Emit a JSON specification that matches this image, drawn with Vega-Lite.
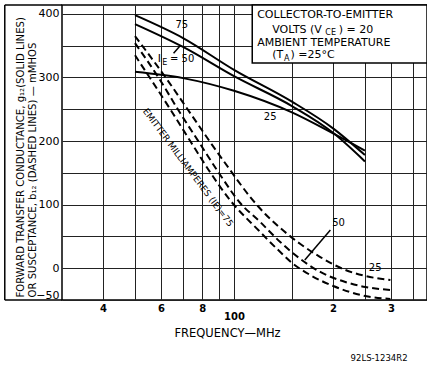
{
  "$schema": "https://vega.github.io/schema/vega-lite/v6.json",
  "width": 365,
  "height": 295,
  "autosize": {"type": "none"},
  "padding": {"left": 62, "top": 5, "right": 0, "bottom": 66},
  "background": "white",
  "config": {
    "view": {"stroke": "black", "strokeWidth": 1.5},
    "font": "DejaVu Sans"
  },
  "datasets": {
    "box": [{"f": 113.6, "f2": 386, "v": 322.8, "v2": 414}],
    "solid": [
      {"ie": "75", "f": 50, "v": 398}, {"ie": "75", "f": 70, "v": 362}, {"ie": "75", "f": 100, "v": 312}, {"ie": "75", "f": 150, "v": 262}, {"ie": "75", "f": 200, "v": 220}, {"ie": "75", "f": 250, "v": 178},
      {"ie": "50", "f": 50, "v": 384}, {"ie": "50", "f": 70, "v": 348}, {"ie": "50", "f": 100, "v": 302}, {"ie": "50", "f": 150, "v": 255}, {"ie": "50", "f": 200, "v": 213}, {"ie": "50", "f": 250, "v": 168},
      {"ie": "25", "f": 50, "v": 309}, {"ie": "25", "f": 70, "v": 299}, {"ie": "25", "f": 100, "v": 279}, {"ie": "25", "f": 150, "v": 245}, {"ie": "25", "f": 200, "v": 212}, {"ie": "25", "f": 250, "v": 185}
    ],
    "dashed": [
      {"ie": "75", "f": 50, "v": 335}, {"ie": "75", "f": 64, "v": 250}, {"ie": "75", "f": 73.6, "v": 200}, {"ie": "75", "f": 84.6, "v": 151}, {"ie": "75", "f": 97.3, "v": 107}, {"ie": "75", "f": 118.5, "v": 60}, {"ie": "75", "f": 138.2, "v": 25.5}, {"ie": "75", "f": 150.4, "v": 8}, {"ie": "75", "f": 170.5, "v": -10.7}, {"ie": "75", "f": 200.3, "v": -28}, {"ie": "75", "f": 250.7, "v": -43.7}, {"ie": "75", "f": 298.7, "v": -48.4},
      {"ie": "50", "f": 50, "v": 354}, {"ie": "50", "f": 58.8, "v": 300.8}, {"ie": "50", "f": 68.6, "v": 244}, {"ie": "50", "f": 78.9, "v": 195.4}, {"ie": "50", "f": 90.8, "v": 146.6}, {"ie": "50", "f": 104.4, "v": 102.6}, {"ie": "50", "f": 120.1, "v": 72.7}, {"ie": "50", "f": 138.2, "v": 41.2}, {"ie": "50", "f": 159.1, "v": 14.5}, {"ie": "50", "f": 182.9, "v": -5.9}, {"ie": "50", "f": 218, "v": -21.7}, {"ie": "50", "f": 250.7, "v": -29.5}, {"ie": "50", "f": 298.7, "v": -34.3},
      {"ie": "25", "f": 50, "v": 365}, {"ie": "25", "f": 61.8, "v": 300.8}, {"ie": "25", "f": 73.6, "v": 244}, {"ie": "25", "f": 84.6, "v": 198.5}, {"ie": "25", "f": 97.3, "v": 154.5}, {"ie": "25", "f": 112, "v": 112}, {"ie": "25", "f": 124.4, "v": 85.3}, {"ie": "25", "f": 138.2, "v": 63.3}, {"ie": "25", "f": 159.1, "v": 38.1}, {"ie": "25", "f": 182.9, "v": 17.6}, {"ie": "25", "f": 218, "v": -2.8}, {"ie": "25", "f": 250.7, "v": -12.2}, {"ie": "25", "f": 298.7, "v": -18.5}
    ],
    "rules": [
      {"f": 65.5, "v": 338, "f2": 68.6, "v2": 350},
      {"f": 196.3, "v": 60, "f2": 164.1, "v2": 12.9},
      {"f": 20.1, "v": 414, "f2": 20.1, "v2": -50},
      {"f": 20.1, "v": 414, "f2": 30, "v2": 414},
      {"f": 20.1, "v": -50, "f2": 30, "v2": -50}
    ],
    "textLeft": [
      {"f": 117.6, "v": 398.3, "t": "COLLECTOR-TO-EMITTER", "s": 11},
      {"f": 130.7, "v": 374.7, "t": "VOLTS (V", "s": 11},
      {"f": 189.5, "v": 370.5, "t": "CE", "s": 8},
      {"f": 208, "v": 374.7, "t": ") = 20", "s": 11},
      {"f": 117.6, "v": 354.2, "t": "AMBIENT TEMPERATURE", "s": 11},
      {"f": 130.7, "v": 335.4, "t": "(T", "s": 11},
      {"f": 141.8, "v": 329, "t": "A", "s": 8},
      {"f": 148.5, "v": 335.4, "t": ") =25°C", "s": 11},
      {"f": 58.6, "v": 329, "t": "I", "s": 11},
      {"f": 60.5, "v": 322.8, "t": "E", "s": 8},
      {"f": 63.9, "v": 329, "t": "= 50", "s": 10}
    ],
    "textCenter": [
      {"f": 69.4, "v": 382.5, "t": "75", "s": 10, "a": 0},
      {"f": 128.8, "v": 237.8, "t": "25", "s": 10, "a": 0},
      {"f": 207.8, "v": 71.1, "t": "50", "s": 10, "a": 0},
      {"f": 268.6, "v": 0.8, "t": "25", "s": 10, "a": 0},
      {"f": 72.5, "v": 158.5, "t": "EMITTER MILLIAMPERES (IE)=75", "s": 9, "a": 53.3},
      {"f": 276, "v": -141.2, "t": "92LS-1234R2", "s": 8.5, "a": 0}
    ]
  },
  "encoding": {
    "x": {
      "field": "f", "type": "quantitative",
      "scale": {"type": "log", "domain": [30, 386], "nice": false},
      "axis": {
        "values": [40, 50, 60, 70, 80, 90, 100, 150, 200, 250, 300, 350],
        "labelExpr": "datum.value==40?'4':datum.value==60?'6':datum.value==80?'8':datum.value==100?['','100']:datum.value==200?'2':datum.value==300?'3':''",
        "domain": false, "ticks": false,
        "grid": true, "gridColor": "#222", "gridWidth": 1,
        "labelFont": "DejaVu Sans", "labelFontSize": 10, "labelFontWeight": "bold", "labelColor": "black",
        "labelPadding": 3, "labelBaseline": "top", "labelLineHeight": 8, "labelOverlap": false, "labelFlush": false,
        "title": "FREQUENCY—MHz", "titleFont": "DejaVu Sans", "titleFontSize": 11.5, "titleFontWeight": "normal", "titleColor": "black",
        "titleX": 165, "titleY": 33, "titleBaseline": "middle", "titleAlign": "center", "titleAnchor": null
      }
    },
    "y": {
      "field": "v", "type": "quantitative",
      "scale": {"domain": [-50, 414], "nice": false, "zero": false},
      "axis": {
        "values": [-50, 0, 50, 100, 150, 200, 250, 300, 350, 400],
        "labelExpr": "(datum.value==-50 || datum.value%100==0) ? datum.label : ''",
        "domain": false, "ticks": false,
        "grid": true, "gridColor": "#222", "gridWidth": 1,
        "labelFont": "DejaVu Sans", "labelFontSize": 11, "labelColor": "black", "labelPadding": 3, "labelFlush": 1,
        "title": ["FORWARD TRANSFER CONDUCTANCE, g₁₂(SOLID LINES)", "OR SUSCEPTANCE, b₁₂ (DASHED LINES) — mMHOS"],
        "titleFont": "DejaVu Sans", "titleFontSize": 10.1, "titleFontWeight": "normal", "titleColor": "black",
        "titleAngle": -90, "titleAlign": "left", "titleBaseline": "middle", "titleLineHeight": 12,
        "titleX": -42, "titleY": 292
      }
    }
  },
  "layer": [
    {
      "data": {"name": "box"},
      "mark": {"type": "rect", "fill": "white", "stroke": "black", "strokeWidth": 1.5},
      "encoding": {"x2": {"field": "f2"}, "y2": {"field": "v2"}}
    },
    {
      "data": {"name": "solid"},
      "mark": {"type": "line", "color": "black", "strokeWidth": 2, "interpolate": "monotone"},
      "encoding": {"detail": {"field": "ie", "type": "nominal"}}
    },
    {
      "data": {"name": "dashed"},
      "mark": {"type": "line", "color": "black", "strokeWidth": 2, "strokeDash": [7, 4], "interpolate": "monotone"},
      "encoding": {"detail": {"field": "ie", "type": "nominal"}}
    },
    {
      "data": {"name": "rules"},
      "mark": {"type": "rule", "color": "black", "strokeWidth": 1.5},
      "encoding": {"x2": {"field": "f2"}, "y2": {"field": "v2"}}
    },
    {
      "data": {"name": "textLeft"},
      "mark": {"type": "text", "align": "left", "baseline": "middle", "color": "black", "font": "DejaVu Sans"},
      "encoding": {
        "text": {"field": "t", "type": "nominal"},
        "size": {"field": "s", "type": "quantitative", "scale": null}
      }
    },
    {
      "data": {"name": "textCenter"},
      "mark": {"type": "text", "align": "center", "baseline": "middle", "color": "black", "font": "DejaVu Sans"},
      "encoding": {
        "text": {"field": "t", "type": "nominal"},
        "size": {"field": "s", "type": "quantitative", "scale": null},
        "angle": {"field": "a", "type": "quantitative", "scale": null}
      }
    }
  ]
}
